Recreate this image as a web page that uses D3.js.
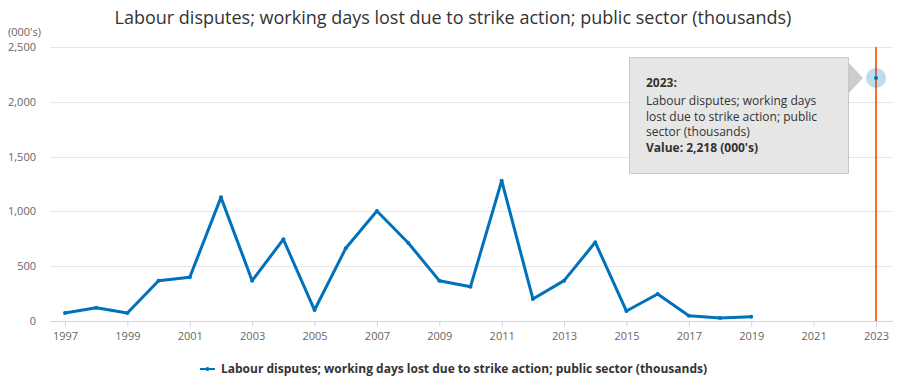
<!DOCTYPE html>
<html><head><meta charset="utf-8">
<script src="https://cdn.jsdelivr.net/npm/d3@7"></script>
<style>body{margin:0;background:#fff;font-family:"Open Sans",sans-serif;}</style>
</head><body><svg id="c" width="906" height="383"></svg>
<script>
const years = [1997,1998,1999,2000,2001,2002,2003,2004,2005,2006,2007,2008,2009,2010,2011,2012,2013,2014,2015,2016,2017,2018,2019,2020,2021,2022,2023];
const values = [73,121,73,368,399,1128,368,745,100,663,1004,714,368,313,1280,201,368,718,91,246,48,27,39,null,null,null,2218];
const yTicks = [0,500,1000,1500,2000,2500];
const xTicks = [1997,1999,2001,2003,2005,2007,2009,2011,2013,2015,2017,2019,2021,2023];
const seriesName = "Labour disputes; working days lost due to strike action; public sector (thousands)";
const chartTitle = "Labour disputes; working days lost due to strike action; public sector (thousands)";
const highlightYear = 2023;

(function(){
const svg = d3.select("#c");
const pL = 50, pR = 893, pT = 47, pB = 321;
const x = d3.scaleLinear().domain([1997,2023]).range([65,876]);
const y = d3.scaleLinear().domain([0,2500]).range([pB,pT]);

svg.append("text").attr("x",453).attr("y",24).attr("text-anchor","middle")
  .attr("font-size",18).attr("fill","#333").text(chartTitle);

svg.append("g").selectAll("line").data(yTicks.filter(d=>d>0)).join("line")
  .attr("x1",pL).attr("x2",pR).attr("y1",d=>Math.round(y(d))+0.5).attr("y2",d=>Math.round(y(d))+0.5)
  .attr("stroke","#e6e6e6").attr("stroke-width",1);
svg.append("g").selectAll("text").data(yTicks).join("text")
  .attr("x",36).attr("y",d=>y(d)+4).attr("text-anchor","end")
  .attr("font-size",11).attr("fill","#666").text(d=>d3.format(",")(d));
svg.append("text").attr("x",8).attr("y",36).attr("font-size",11).attr("fill","#666").text("(000's)");

const xa = d3.axisBottom(x).tickValues(xTicks).tickFormat(d3.format("d")).tickSize(6);
const gx = svg.append("g").attr("transform",`translate(0,${pB})`).call(xa);
gx.select(".domain").attr("d",`M${pL},0.5H${pR}`).attr("stroke","#ccd6eb");
gx.selectAll(".tick line").attr("stroke","#ccd6eb");
gx.selectAll(".tick text").attr("font-size",11).attr("fill","#666").attr("font-family","Open Sans").attr("dy","0.9em");

svg.append("line").attr("x1",x(highlightYear)).attr("x2",x(highlightYear)).attr("y1",pT).attr("y2",pB)
  .attr("stroke","#f86d2a").attr("stroke-width",2);

const data = years.map((yr,i)=>({yr,v:values[i]}));
const line = d3.line().defined(d=>d.v!=null).x(d=>x(d.yr)).y(d=>y(d.v));
svg.append("path").datum(data).attr("d",line).attr("fill","none")
  .attr("stroke","#0072bc").attr("stroke-width",3).attr("stroke-linejoin","round");
svg.append("g").selectAll("circle").data(data.filter(d=>d.v!=null && d.yr!==highlightYear)).join("circle")
  .attr("cx",d=>x(d.yr)).attr("cy",d=>y(d.v)).attr("r",2).attr("fill","#0072bc");

const hv = values[years.indexOf(highlightYear)];
svg.append("circle").attr("cx",x(highlightYear)).attr("cy",y(hv)).attr("r",10).attr("fill","#0072bc").attr("fill-opacity",0.25);
svg.append("circle").attr("cx",x(highlightYear)).attr("cy",y(hv)).attr("r",2).attr("fill","#0072bc");

const tx = 629, ty = 57, tw = 219, th = 116;
const ay = y(hv);
svg.append("path").attr("d",`M${tx+tw},${ay-16}L${tx+tw+15},${ay}L${tx+tw},${ay+16}Z`).attr("fill","#cccccc");
svg.append("rect").attr("x",tx+0.5).attr("y",ty+0.5).attr("width",tw).attr("height",th)
  .attr("fill","#e6e6e6").attr("stroke","#c8c8c8");
const tt = svg.append("text").attr("font-size",12).attr("fill","#333");
tt.append("tspan").attr("x",646).attr("y",87).attr("font-weight","bold").text(highlightYear+":");
["Labour disputes; working days","lost due to strike action; public","sector (thousands)"].forEach((s,i)=>{
  tt.append("tspan").attr("x",646).attr("y",105+i*15.5).text(s);
});
tt.append("tspan").attr("x",646).attr("y",152).attr("font-weight","bold").text("Value: "+d3.format(",")(hv)+" (000's)");

svg.append("line").attr("x1",200).attr("x2",215).attr("y1",369).attr("y2",369).attr("stroke","#0072bc").attr("stroke-width",2);
svg.append("circle").attr("cx",207.5).attr("cy",369).attr("r",2).attr("fill","#0072bc");
svg.append("text").attr("x",221).attr("y",373).attr("font-size",12).attr("font-weight","bold").attr("fill","#333").text(seriesName);
})();
</script></body></html>
